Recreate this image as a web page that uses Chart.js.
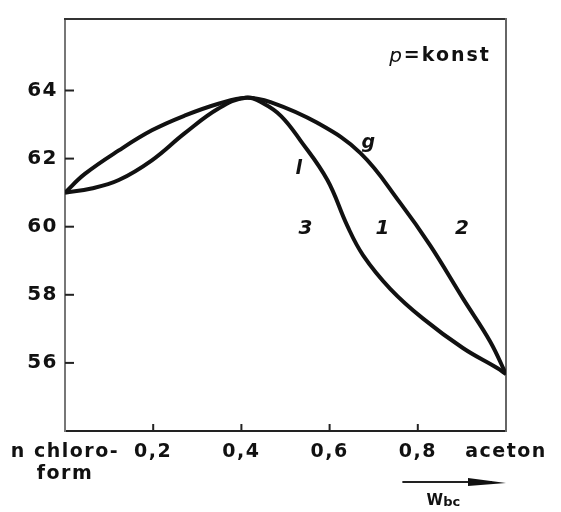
<!DOCTYPE html>
<html>
<head>
<meta charset="utf-8">
<script src="https://cdn.jsdelivr.net/npm/chart.js@4.4.1/dist/chart.umd.min.js"></script>
<style>
  html, body { margin: 0; padding: 0; background: #fff; }
  #wrap { width: 561px; height: 512px; }
</style>
</head>
<body>
<div id="wrap"><canvas id="c" width="561" height="512"></canvas></div>
<script>
// Siedediagramm Chloroform / Aceton (p = konst)
const gX = [0, 0.045, 0.122, 0.197, 0.271, 0.348, 0.41, 0.466, 0.572, 0.670, 0.760, 0.828, 0.903, 0.964, 1.0];
const gY = [61.0, 61.55, 62.24, 62.83, 63.26, 63.61, 63.79, 63.66, 63.05, 62.16, 60.70, 59.45, 57.88, 56.63, 55.67];

const lX = [0, 0.06, 0.122, 0.197, 0.271, 0.348, 0.41, 0.45, 0.49, 0.534, 0.595, 0.640, 0.676, 0.738, 0.812, 0.903, 0.980, 1.0];
const lY = [61.0, 61.12, 61.37, 61.95, 62.74, 63.47, 63.79, 63.62, 63.25, 62.53, 61.37, 60.03, 59.16, 58.17, 57.30, 56.43, 55.85, 55.67];

const xTicks = [0, 0.2, 0.4, 0.6, 0.8, 1.0];
const xTickLabels = [['n chloro-', 'form'], '0,2', '0,4', '0,6', '0,8', 'aceton'];
const yTicks = [56, 58, 60, 62, 64];
const yTickLabels = ['56', '58', '60', '62', '64'];

// curve and region labels, in data coordinates
const notes = [
  { x: 0.688, y: 62.45, text: 'g', font: 'italic bold 19px "DejaVu Sans"' },
  { x: 0.530, y: 61.70, text: 'l', font: 'italic bold 19px "DejaVu Sans"' },
  { x: 0.545, y: 59.95, text: '3', font: 'italic bold 20px "DejaVu Sans"' },
  { x: 0.720, y: 59.95, text: '1', font: 'italic bold 20px "DejaVu Sans"' },
  { x: 0.900, y: 59.95, text: '2', font: 'italic bold 20px "DejaVu Sans"' }
];

const toPts = (xs, ys) => xs.map((x, i) => ({ x, y: ys[i] }));

const extras = {
  id: 'extras',
  beforeDraw(chart) {
    chart.ctx.letterSpacing = '1.5px';
  },
  afterDraw(chart) {
    const { ctx, chartArea: a, scales: { x, y } } = chart;
    ctx.save();
    ctx.letterSpacing = '0px';
    ctx.strokeStyle = '#222';
    ctx.lineWidth = 2;
    // inward tick marks
    xTicks.slice(1, -1).forEach(v => {
      const px = x.getPixelForValue(v);
      ctx.beginPath(); ctx.moveTo(px, a.bottom); ctx.lineTo(px, a.bottom - 7); ctx.stroke();
    });
    yTicks.forEach(v => {
      const py = y.getPixelForValue(v);
      ctx.beginPath(); ctx.moveTo(a.left, py); ctx.lineTo(a.left + 9, py); ctx.stroke();
    });

    ctx.fillStyle = '#111';
    ctx.textAlign = 'center';
    ctx.textBaseline = 'middle';
    notes.forEach(n => {
      ctx.font = n.font;
      ctx.fillText(n.text, x.getPixelForValue(n.x), y.getPixelForValue(n.y));
    });

    // p = konst
    const kx = x.getPixelForValue(0.735), ky = y.getPixelForValue(65.0);
    ctx.textAlign = 'left';
    ctx.font = 'italic 20px "DejaVu Sans"';
    ctx.fillText('p', kx, ky);
    const pw = ctx.measureText('p').width;
    ctx.letterSpacing = '2px';
    ctx.font = 'bold 19px "DejaVu Sans"';
    ctx.fillText('=konst', kx + pw + 2, ky);
    ctx.letterSpacing = '0px';

    // composition arrow below the axis
    const ax0 = x.getPixelForValue(0.765), ax1 = x.getPixelForValue(1.0), ay = a.bottom + 51;
    ctx.lineWidth = 2;
    ctx.beginPath(); ctx.moveTo(ax0, ay); ctx.lineTo(ax1 - 14, ay); ctx.stroke();
    ctx.beginPath();
    ctx.moveTo(ax1, ay + 1); ctx.lineTo(ax1 - 38, ay - 4); ctx.lineTo(ax1 - 38, ay + 4); ctx.closePath();
    ctx.fill();
    const wx = x.getPixelForValue(0.82), wy = a.bottom + 70;
    ctx.textAlign = 'left';
    ctx.font = 'bold 15px "DejaVu Sans"';
    ctx.fillText('W', wx, wy);
    const ww = ctx.measureText('W').width;
    ctx.font = 'bold 13px "DejaVu Sans"';
    ctx.fillText('bc', wx + ww, wy + 2);
    ctx.restore();
  }
};

new Chart(document.getElementById('c'), {
  type: 'line',
  data: {
    datasets: [
      { label: 'g', data: toPts(gX, gY), borderColor: '#111', borderWidth: 4, pointRadius: 0, tension: 0.4, fill: false },
      { label: 'l', data: toPts(lX, lY), borderColor: '#111', borderWidth: 4, pointRadius: 0, tension: 0.4, fill: false }
    ]
  },
  options: {
    responsive: false,
    animation: false,
    layout: { padding: { top: 15, right: 55, left: 0, bottom: 0 } },
    plugins: { legend: { display: false }, tooltip: { enabled: false } },
    scales: {
      x: {
        type: 'linear', min: 0, max: 1,
        afterBuildTicks: s => { s.ticks = xTicks.map(v => ({ value: v })); },
        afterFit: s => { s.height = 81; },
        border: { display: true, color: '#222', width: 2 },
        grid: { display: false, drawTicks: false },
        ticks: {
          autoSkip: false, maxRotation: 0, padding: 10,
          color: '#111', font: { family: 'DejaVu Sans', size: 19, weight: 'bold', lineHeight: 1.15 },
          callback: (v, i) => xTickLabels[i]
        }
      },
      y: {
        type: 'linear', min: 54, max: 66.1,
        afterBuildTicks: s => { s.ticks = yTicks.map(v => ({ value: v })); },
        afterFit: s => { s.width = 65; },
        border: { display: true, color: '#777', width: 2 },
        grid: { display: false, drawTicks: false },
        ticks: {
          padding: 7, color: '#111', font: { family: 'DejaVu Sans', size: 20, weight: 'bold' },
          callback: (v, i) => yTickLabels[i]
        }
      },
      x2: {
        type: 'linear', position: 'top', min: 0, max: 1,
        afterFit: s => { s.height = 0; },
        border: { display: true, color: '#333', width: 2 },
        grid: { display: false, drawTicks: false }, ticks: { display: false }
      },
      y2: {
        type: 'linear', position: 'right', min: 54, max: 66.1,
        afterFit: s => { s.width = 0; },
        border: { display: true, color: '#666', width: 2 },
        grid: { display: false, drawTicks: false }, ticks: { display: false }
      }
    }
  },
  plugins: [extras]
});
</script>
</body>
</html>
